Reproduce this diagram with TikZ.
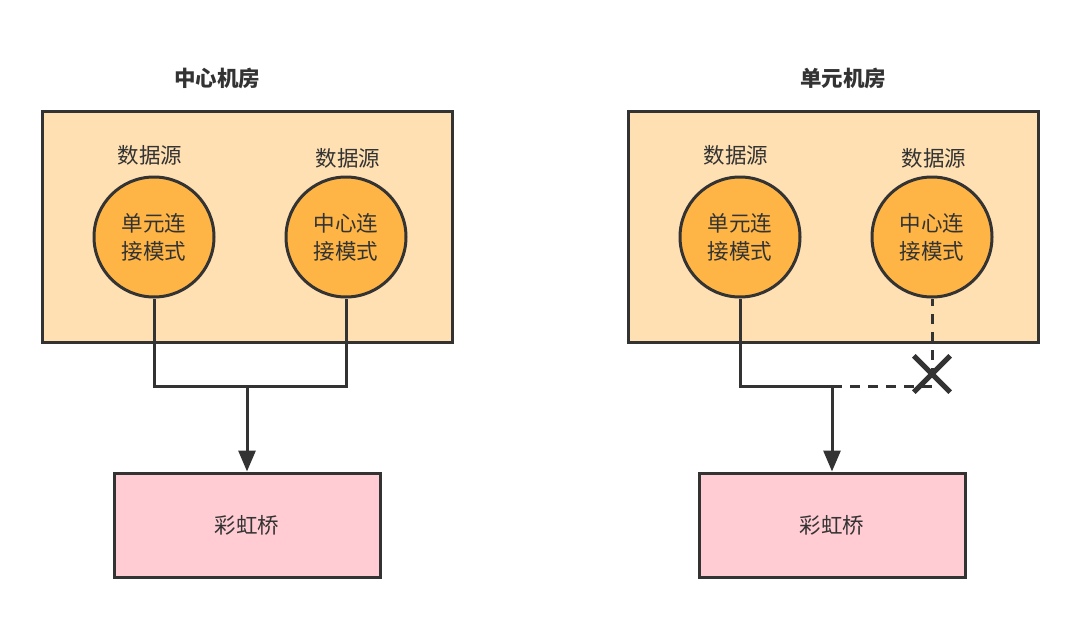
\documentclass[tikz,border=0pt]{standalone}
\usepackage{fontspec}
\setmainfont{Noto Sans CJK SC}
\usepackage{tikz}
\usetikzlibrary{arrows.meta, positioning, shapes.misc}

\definecolor{ink}{HTML}{333333}
\definecolor{roomfill}{HTML}{FFE0B2}
\definecolor{srcfill}{HTML}{FFB545}
\definecolor{bridgefill}{HTML}{FFCCD3}

\begin{document}
\begin{tikzpicture}[x=1pt, y=-1pt,
  every node/.style={text=ink, font=\fontsize{21.5}{28}\selectfont},
  room/.style={draw=ink, line width=3pt, fill=roomfill, minimum width=410pt, minimum height=231pt, inner sep=0pt},
  src/.style={draw=ink, line width=3pt, fill=srcfill, circle, minimum size=120pt, inner sep=0pt, align=center},
  bridge/.style={draw=ink, line width=3pt, fill=bridgefill, minimum width=266pt, minimum height=104pt, inner sep=0pt},
  ttl/.style={font=\fontsize{21.5}{26}\selectfont\bfseries},
  wire/.style={draw=ink, line width=3pt},
  cut/.style={wire, dash pattern=on 10pt off 8pt}]

  \useasboundingbox (0,0) rectangle (1080,621);

  % Central room (left)
  \node[ttl] (t1) at (217, 78) {中心机房};
  \node[room] (r1) at (247, 226.5) {};
  \node (d1) at (150, 155) {数据源};
  \node (d2) at (348, 158) {数据源};
  \node[src] (s1) at (154, 237) {单元连\\接模式};
  \node[src] (s2) at (346, 237) {中心连\\接模式};
  \node[bridge] (b1) at (247, 525) {彩虹桥};
  \coordinate (j1) at (247, 386);

  \draw[wire] (s1.south) |- (j1) -| (s2.south);
  \draw[wire, -{Triangle[length=21pt, width=17pt]}] (j1) -- (b1.north);

  % Unit room (right)
  \node[ttl] (t2) at (843, 78) {单元机房};
  \node[room] (r2) at (833, 226.5) {};
  \node (d3) at (736, 155) {数据源};
  \node (d4) at (934, 158) {数据源};
  \node[src] (s3) at (740, 237) {单元连\\接模式};
  \node[src] (s4) at (932, 237) {中心连\\接模式};
  \node[bridge] (b2) at (832, 525) {彩虹桥};
  \coordinate (j2) at (832, 386);

  \draw[wire] (s3.south) |- (j2);
  \draw[cut] (j2) -| (s4.south);
  \draw[wire, -{Triangle[length=21pt, width=17pt]}] (j2) -- (b2.north);

  % broken link mark
  \node[minimum size=36pt, inner sep=0pt] (x1) at (932, 374) {};
  \draw[wire, line width=5pt] (x1.north west) -- (x1.south east);
  \draw[wire, line width=5pt] (x1.north east) -- (x1.south west);

\end{tikzpicture}
\end{document}
